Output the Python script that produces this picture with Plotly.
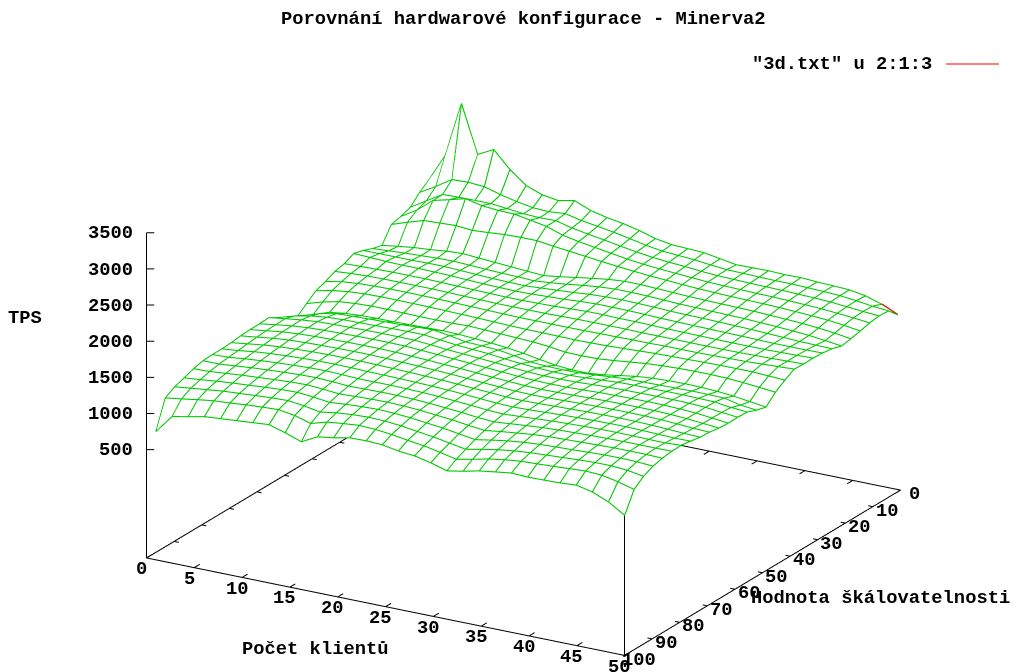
import plotly.graph_objects as go

title_text = "Porovnání hardwarové konfigurace - Minerva2"
legend_text = '"3d.txt" u 2:1:3'
x_label = "Počet klientů"
y_label = "Hodnota škálovatelnosti"
z_label = "TPS"
x_ticks = [0, 5, 10, 15, 20, 25, 30, 35, 40, 45, 50]
y_ticks = [0, 10, 20, 30, 40, 50, 60, 70, 80, 90, 100]
z_ticks = [500, 1000, 1500, 2000, 2500, 3000, 3500]
x_range = [0, 50]
y_range = [100, 0]
z_range = [-1000, 3500]
x_first, x_last, y_first, y_last, grid_count = 1, 50, 1, 100, 30

z_rows = [
[1994,2372,3136,2476,2590,2360,2184,2100,2066,2112,2020,1968,1932,1880,1814,1776,1766,1756,1718,1680,1684,1688,1680,1684,1670,1662,1652,1614,1544,1442],
[1892,2020,2162,2170,2154,2090,2040,2000,1990,2010,1960,1925,1890,1845,1800,1765,1750,1735,1710,1690,1685,1680,1675,1675,1668,1660,1650,1625,1595,1576],
[1764,1900,2033,2040,2043,2043,2020,1995,1985,1990,1935,1895,1860,1820,1785,1755,1735,1720,1700,1685,1680,1672,1668,1665,1658,1650,1640,1620,1600,1584],
[1716,1850,2029,2085,2145,2095,2075,2070,2030,1990,1915,1870,1835,1800,1765,1740,1720,1705,1690,1675,1668,1662,1655,1652,1645,1635,1625,1608,1590,1566],
[1684,1760,1830,1840,1850,1830,1845,1863,1870,1870,1840,1815,1790,1765,1740,1720,1700,1688,1672,1660,1652,1645,1640,1635,1628,1618,1605,1590,1565,1532],
[1472,1505,1533,1550,1575,1586,1570,1555,1540,1525,1510,1540,1575,1610,1640,1660,1660,1650,1640,1630,1625,1620,1615,1610,1600,1590,1578,1560,1535,1502],
[1506,1520,1535,1545,1555,1560,1550,1540,1530,1525,1515,1535,1560,1590,1615,1630,1630,1625,1615,1605,1600,1595,1590,1585,1575,1565,1552,1535,1510,1480],
[1558,1560,1560,1560,1565,1565,1555,1545,1535,1530,1525,1540,1555,1570,1590,1600,1605,1600,1595,1585,1580,1578,1572,1565,1560,1550,1540,1530,1525,1520],
[1594,1585,1575,1570,1570,1565,1560,1550,1540,1535,1530,1535,1545,1555,1570,1580,1580,1578,1572,1565,1560,1555,1552,1548,1545,1540,1535,1535,1535,1540],
[1532,1540,1545,1550,1550,1550,1545,1540,1535,1530,1525,1525,1530,1535,1545,1555,1555,1550,1550,1545,1540,1538,1535,1532,1530,1530,1530,1535,1540,1548],
[1502,1520,1530,1535,1535,1535,1535,1530,1525,1520,1515,1515,1515,1515,1520,1525,1525,1525,1525,1520,1520,1520,1518,1518,1518,1520,1525,1530,1538,1544],
[1440,1485,1505,1515,1520,1520,1518,1515,1510,1505,1500,1495,1490,1490,1490,1490,1490,1495,1495,1500,1500,1505,1505,1505,1510,1515,1520,1530,1540,1552],
[1392,1440,1470,1485,1490,1490,1488,1485,1480,1475,1470,1462,1455,1450,1448,1445,1442,1445,1450,1460,1470,1480,1485,1490,1495,1500,1500,1500,1490,1476],
[1292,1360,1410,1430,1440,1440,1435,1430,1430,1430,1440,1430,1420,1410,1400,1380,1350,1345,1350,1370,1395,1420,1435,1445,1450,1450,1445,1430,1410,1388],
[1186,1265,1340,1370,1385,1390,1390,1395,1400,1405,1400,1385,1370,1350,1320,1280,1245,1227,1227,1250,1285,1320,1340,1350,1355,1350,1340,1320,1290,1260],
[1254,1330,1400,1444,1455,1462,1470,1476,1486,1494,1460,1420,1410,1400,1365,1324,1312,1306,1312,1326,1345,1362,1365,1368,1373,1378,1376,1372,1320,1296],
[1332,1400,1445,1475,1485,1490,1495,1500,1505,1505,1480,1455,1440,1425,1400,1380,1365,1355,1355,1365,1380,1395,1400,1400,1405,1405,1400,1395,1365,1348],
[1410,1440,1470,1490,1498,1503,1508,1510,1510,1508,1490,1470,1455,1440,1425,1405,1390,1380,1380,1385,1395,1405,1410,1412,1415,1415,1410,1400,1375,1354],
[1402,1435,1465,1485,1495,1500,1505,1508,1508,1505,1492,1478,1465,1450,1435,1420,1405,1395,1390,1392,1400,1410,1415,1418,1420,1418,1410,1398,1375,1350],
[1400,1430,1460,1478,1488,1495,1500,1502,1502,1498,1488,1478,1465,1455,1440,1425,1412,1400,1395,1398,1405,1412,1418,1420,1422,1420,1412,1400,1380,1360],
[1392,1420,1450,1470,1480,1488,1492,1495,1495,1490,1482,1475,1465,1455,1442,1428,1415,1402,1398,1400,1408,1415,1420,1425,1425,1424,1416,1405,1390,1382],
[1376,1405,1435,1455,1468,1478,1484,1486,1485,1480,1475,1468,1460,1452,1440,1428,1415,1400,1395,1400,1408,1415,1422,1426,1428,1426,1420,1410,1398,1390],
[1368,1390,1420,1440,1455,1465,1472,1475,1472,1465,1462,1458,1452,1445,1435,1422,1408,1392,1385,1392,1402,1412,1420,1426,1430,1430,1425,1418,1410,1414],
[1368,1375,1400,1420,1435,1448,1458,1462,1455,1445,1445,1445,1442,1435,1425,1410,1395,1375,1365,1378,1392,1405,1415,1422,1428,1430,1428,1424,1422,1434],
[1360,1360,1380,1400,1415,1428,1440,1445,1435,1420,1425,1428,1428,1422,1410,1392,1375,1350,1335,1355,1375,1392,1405,1412,1420,1425,1428,1428,1428,1430],
[1328,1335,1355,1375,1390,1405,1418,1425,1410,1390,1400,1408,1412,1405,1392,1370,1350,1320,1295,1325,1350,1375,1390,1398,1405,1412,1418,1420,1418,1412],
[1280,1300,1325,1345,1360,1378,1392,1398,1378,1350,1370,1382,1390,1382,1365,1340,1315,1280,1245,1285,1320,1345,1362,1372,1380,1390,1398,1400,1395,1380],
[1234,1260,1285,1310,1325,1340,1355,1362,1335,1295,1330,1350,1360,1352,1332,1300,1270,1230,1190,1235,1275,1305,1325,1338,1350,1362,1372,1372,1355,1318],
[1158,1190,1225,1255,1270,1290,1305,1315,1280,1215,1280,1305,1325,1315,1290,1255,1225,1180,1130,1175,1225,1260,1285,1295,1305,1320,1332,1320,1275,1214],
[770,1024,1068,1114,1132,1150,1168,1186,1120,1040,1154,1186,1232,1236,1226,1186,1164,1114,1048,1088,1138,1170,1200,1190,1194,1200,1216,1166,1074,934],
]

x_step = (x_last - x_first) / (grid_count - 1)
y_step = (y_last - y_first) / (grid_count - 1)
x_vals = [x_first + i * x_step for i in range(grid_count)]
y_vals = [y_first + j * y_step for j in range(grid_count)]

GREEN = "#00c800"
FONT = "Liberation Mono"
BLACK_W = 2
MESH_W = 2.2
LIFT = 6  # keeps the mesh just above the white hiding surface
text_font = dict(family=FONT, size=18.8, color="black")

# mesh polylines, one per row and one per column of the table
mesh_x, mesh_y, mesh_z = [], [], []
for j, yv in enumerate(y_vals):
    mesh_x += x_vals + [None]
    mesh_y += [yv] * grid_count + [None]
    mesh_z += [v + LIFT for v in z_rows[j]] + [None]
for i, xv in enumerate(x_vals):
    mesh_x += [xv] * grid_count + [None]
    mesh_y += y_vals + [None]
    mesh_z += [row[i] + LIFT for row in z_rows] + [None]

x0, x1 = x_range
y_near, y_far = y_range
z0, z1 = z_range
EPS = 0.02


def black(xs, ys, zs):
    fig.add_trace(go.Scatter3d(x=xs, y=ys, z=zs, mode="lines",
                               line=dict(color="black", width=BLACK_W),
                               showlegend=False, hoverinfo="skip"))


fig = go.Figure()
fig.add_trace(go.Surface(
    x=x_vals, y=y_vals, z=z_rows, showscale=False, hoverinfo="skip",
    colorscale=[[0, "white"], [1, "white"]],
    lighting=dict(ambient=1, diffuse=0, specular=0, roughness=1, fresnel=0),
    contours=dict(x=dict(highlight=False), y=dict(highlight=False), z=dict(highlight=False)),
))
fig.add_trace(go.Scatter3d(x=mesh_x, y=mesh_y, z=mesh_z, mode="lines",
                           line=dict(color=GREEN, width=MESH_W),
                           showlegend=False, hoverinfo="skip"))
# base frame (a hair inside the scene's clipping box)
black([x0 + EPS, x1 - EPS, x1 - EPS, x0 + EPS, x0 + EPS],
      [y_near - EPS, y_near - EPS, y_far + EPS, y_far + EPS, y_near - EPS],
      [z0 + 2] * 5)
# uprights
black([x1 - EPS, x1 - EPS], [y_near - EPS, y_near - EPS], [z0 + 2, z_rows[-1][-1]])
black([x0 + EPS, x0 + EPS], [y_near - EPS, y_near - EPS], [z0 + 2, z1 - 2])
# tick marks
tx, ty, tz = [], [], []
for t in x_ticks:
    tx += [t, t, None, t, t, None]
    ty += [y_near - EPS, y_near - 2, None, y_far + EPS, y_far + 2, None]
    tz += [z0 + 2, z0 + 2, None, z0 + 2, z0 + 2, None]
for t in y_ticks:
    tx += [x1 - EPS, x1 - 0.5, None, x0 + EPS, x0 + 0.5, None]
    ty += [t, t, None, t, t, None]
    tz += [z0 + 2, z0 + 2, None, z0 + 2, z0 + 2, None]
for t in z_ticks:
    tx += [x0 + EPS, x0 + 0.62, None]
    ty += [y_near - EPS, y_near - 0.73, None]
    tz += [t, t, None]
black(tx, ty, tz)
# the small part of the top side that shows in red
fig.add_trace(go.Scatter3d(
    x=x_vals[-2:], y=y_vals[:1] * 2, z=[v + 2 * LIFT for v in z_rows[0][-2:]], mode="lines",
    line=dict(color="red", width=MESH_W), showlegend=False, hoverinfo="skip"))


def axis(vals, rng):
    return dict(range=rng, tickmode="array", tickvals=vals, ticktext=[str(v) for v in vals],
                showgrid=False, zeroline=False, showbackground=False, showspikes=False,
                showline=False, ticks="", showticklabels=False, title=dict(text=""))


def tick_note(text, x, y, z, xshift, yshift, xanchor="center"):
    return dict(text=f"<b>{text}</b>", x=x, y=y, z=z, showarrow=False, font=text_font,
                xshift=xshift, yshift=yshift, xanchor=xanchor, yanchor="middle")


scene_notes = (
    [tick_note(t, t, y_near, z0, -5, -11) for t in x_ticks]
    + [tick_note(t, x1, t, z0, 14, -4) for t in y_ticks]
    + [tick_note(t, x0, y_near, t, -11, -1, "right") for t in z_ticks]
)


def paper_note(text, px, py, xanchor="center"):
    return dict(text=f"<b>{text}</b>", xref="paper", yref="paper", x=px / 1016, y=1 - py / 672,
                showarrow=False, font=text_font, xanchor=xanchor, yanchor="middle")


k = 478 / 268
fig.update_layout(
    width=1016, height=672, margin=dict(l=0, r=0, t=0, b=0),
    paper_bgcolor="white", showlegend=False,
    font=dict(family=FONT, color="black"),
    scene=dict(
        domain=dict(x=[31 / 1016, 1], y=[0, 1 - 50.6 / 672]),
        xaxis=axis(x_ticks, x_range), yaxis=axis(y_ticks, y_range), zaxis=axis(z_ticks, z_range),
        aspectmode="manual", aspectratio=dict(x=1 * k, y=0.989 * k, z=0.627 * k),
        camera=dict(projection=dict(type="orthographic"),
                    up=dict(x=0, y=0, z=1), center=dict(x=0, y=0, z=0),
                    eye=dict(x=0.77, y=-1.32, z=0.57)),
        annotations=scene_notes,
    ),
    annotations=[
        paper_note(title_text, 523, 19),
        paper_note(legend_text, 934, 64, "right"),
        paper_note(x_label, 315, 649),
        paper_note(y_label, 1012, 598, "right"),
        paper_note(z_label, 25, 318),
    ],
    shapes=[dict(type="line", xref="paper", yref="paper", x0=946 / 1016, x1=999 / 1016,
                 y0=1 - 64 / 672, y1=1 - 64 / 672, line=dict(color="red", width=1))],
)
fig.write_html("out.html", config=dict(displayModeBar=False), post_script="document.body.style.margin='0';")
